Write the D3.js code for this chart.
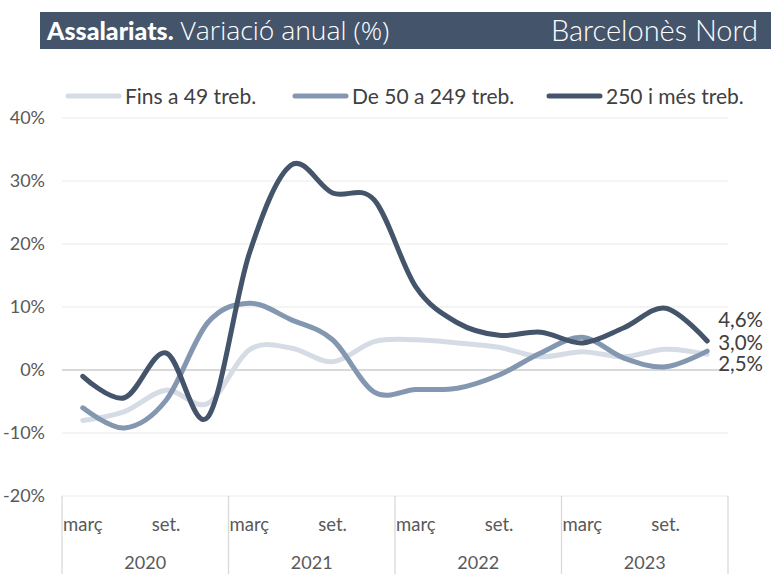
<!DOCTYPE html>
<html>
<head>
<meta charset="utf-8">
<script src="https://cdn.jsdelivr.net/npm/d3@7"></script>
<style>
  body { margin: 0; background: #fff; }
  svg { display: block; font-family: Lato, "Noto Sans", sans-serif; }
</style>
</head>
<body>
<div id="chart"></div>
<script>
// categories: quarters per year
var years = ["2020", "2021", "2022", "2023"];
var quarters = ["març", "juny", "set.", "des."];
var shownQuarters = ["març", "set."];

// series (% annual change)
var fins49 = [-8.0, -6.6, -3.2, -5.3, 3.2, 3.5, 1.3, 4.5, 4.8, 4.3, 3.6, 2.1, 2.9, 2.1, 3.3, 2.5];
var de50a249 = [-6.0, -9.2, -4.8, 7.5, 10.6, 8.0, 4.8, -3.5, -3.1, -2.9, -0.8, 2.7, 5.2, 1.9, 0.5, 3.0];
var mes250 = [-1.0, -4.4, 2.7, -7.5, 18.5, 32.5, 28.1, 27.0, 13.2, 7.5, 5.5, 6.0, 4.3, 6.7, 9.8, 4.6];

var seriesNames = ["Fins a 49 treb.", "De 50 a 249 treb.", "250 i més treb."];
var endLabels = ["2,5%", "3,0%", "4,6%"];
var yTicks = [-20, -10, 0, 10, 20, 30, 40];

var colors = ["#d6dce5", "#8497b0", "#44546a"];

var W = 771, H = 574;
var margin = { top: 118, right: 43, bottom: 78, left: 62 };

var svg = d3.select("#chart").append("svg")
    .attr("width", W)
    .attr("height", H);

// title bar
svg.append("rect")
    .attr("x", 40).attr("y", 12)
    .attr("width", W - 40).attr("height", 37)
    .attr("fill", "#44546a");

var title = svg.append("text")
    .attr("x", 47).attr("y", 40)
    .attr("fill", "#fff");
title.append("tspan")
    .style("font-weight", "900")
    .style("font-size", "25px")
    .text("Assalariats.");
title.append("tspan")
    .style("font-family", "'Open Sans', sans-serif")
    .style("font-weight", "300")
    .style("font-size", "26.5px")
    .text(" Variació anual (%)");

svg.append("text")
    .attr("x", 758).attr("y", 41)
    .attr("text-anchor", "end")
    .attr("fill", "#fff")
    .style("font-size", "29px")
    .style("font-weight", "300")
    .text("Barcelonès Nord");

// scales
var cats = [];
years.forEach(function(yr) {
    quarters.forEach(function(q) { cats.push(yr + "|" + q); });
});

var x = d3.scaleBand()
    .domain(cats)
    .range([margin.left, W - margin.right]);

var y = d3.scaleLinear()
    .domain([d3.min(yTicks), d3.max(yTicks)])
    .range([H - margin.bottom, margin.top]);

function cx(i) { return x(cats[i]) + x.bandwidth() / 2; }

// gridlines
svg.append("g").selectAll("line")
    .data(yTicks)
    .enter().append("line")
    .attr("x1", margin.left).attr("x2", W - margin.right)
    .attr("y1", function(d) { return y(d); })
    .attr("y2", function(d) { return y(d); })
    .attr("stroke", function(d) { return d == 0 ? "#d9d9d9" : "#f0f0f0"; })
    .attr("stroke-width", function(d) { return d == 0 ? 2 : 1.3; });

// y axis
var yAxis = svg.append("g")
    .attr("transform", "translate(" + margin.left + ",0)")
    .call(d3.axisLeft(y).tickValues(yTicks).tickSize(0).tickPadding(17)
        .tickFormat(function(d) { return d + "%"; }));
yAxis.select(".domain").remove();
yAxis.selectAll("text")
    .attr("fill", "#595959")
    .style("font-size", "18px")
    .style("font-family", "Lato, sans-serif");

// x axis (two levels)
var xBottom = H - margin.bottom;
var yearW = (W - margin.right - margin.left) / years.length;

svg.append("g").selectAll("line")
    .data(d3.range(years.length + 1))
    .enter().append("line")
    .attr("x1", function(i) { return margin.left + i * yearW; })
    .attr("x2", function(i) { return margin.left + i * yearW; })
    .attr("y1", xBottom)
    .attr("y2", H)
    .attr("stroke", "#d9d9d9")
    .attr("stroke-width", 1.3);

svg.append("g").selectAll("text")
    .data(cats.filter(function(c) { return shownQuarters.indexOf(c.split("|")[1]) >= 0; }))
    .enter().append("text")
    .attr("x", function(c) { return x(c) + x.bandwidth() / 2; })
    .attr("y", xBottom + 35)
    .attr("text-anchor", "middle")
    .attr("fill", "#595959")
    .style("font-size", "18.5px")
    .text(function(c) { return c.split("|")[1]; });

svg.append("g").selectAll("text")
    .data(years)
    .enter().append("text")
    .attr("x", function(d, i) { return margin.left + (i + 0.5) * yearW; })
    .attr("y", H - 5)
    .attr("text-anchor", "middle")
    .attr("fill", "#595959")
    .style("font-size", "18px")
    .text(function(d) { return d; });

// lines
var line = d3.line()
    .x(function(d, i) { return cx(i); })
    .y(function(d) { return y(d); })
    .curve(d3.curveCatmullRom.alpha(0));

var allSeries = [fins49, de50a249, mes250];

svg.append("g").selectAll("path")
    .data(allSeries)
    .enter().append("path")
    .attr("d", line)
    .attr("fill", "none")
    .attr("stroke", function(d, i) { return colors[i]; })
    .attr("stroke-width", 5)
    .attr("stroke-linecap", "round")
    .attr("stroke-linejoin", "round");

// end labels
var endY = [371, 350, 327];
svg.append("g").selectAll("text")
    .data(endLabels)
    .enter().append("text")
    .attr("x", cx(cats.length - 1) + 11)
    .attr("y", function(d, i) { return endY[i]; })
    .attr("fill", "#404040")
    .style("font-size", "20.5px")
    .text(function(d) { return d; });

// legend
var legendX = [66, 293, 547];
var lg = svg.append("g").selectAll("g")
    .data(seriesNames)
    .enter().append("g")
    .attr("transform", function(d, i) { return "translate(" + legendX[i] + ",96)"; });
lg.append("line")
    .attr("x1", 2).attr("x2", 53)
    .attr("stroke", function(d, i) { return colors[i]; })
    .attr("stroke-width", 5)
    .attr("stroke-linecap", "round");
lg.append("text")
    .attr("x", 59).attr("y", 7.5)
    .attr("fill", "#404040")
    .style("font-size", "21px")
    .text(function(d) { return d; });
</script>
</body>
</html>
